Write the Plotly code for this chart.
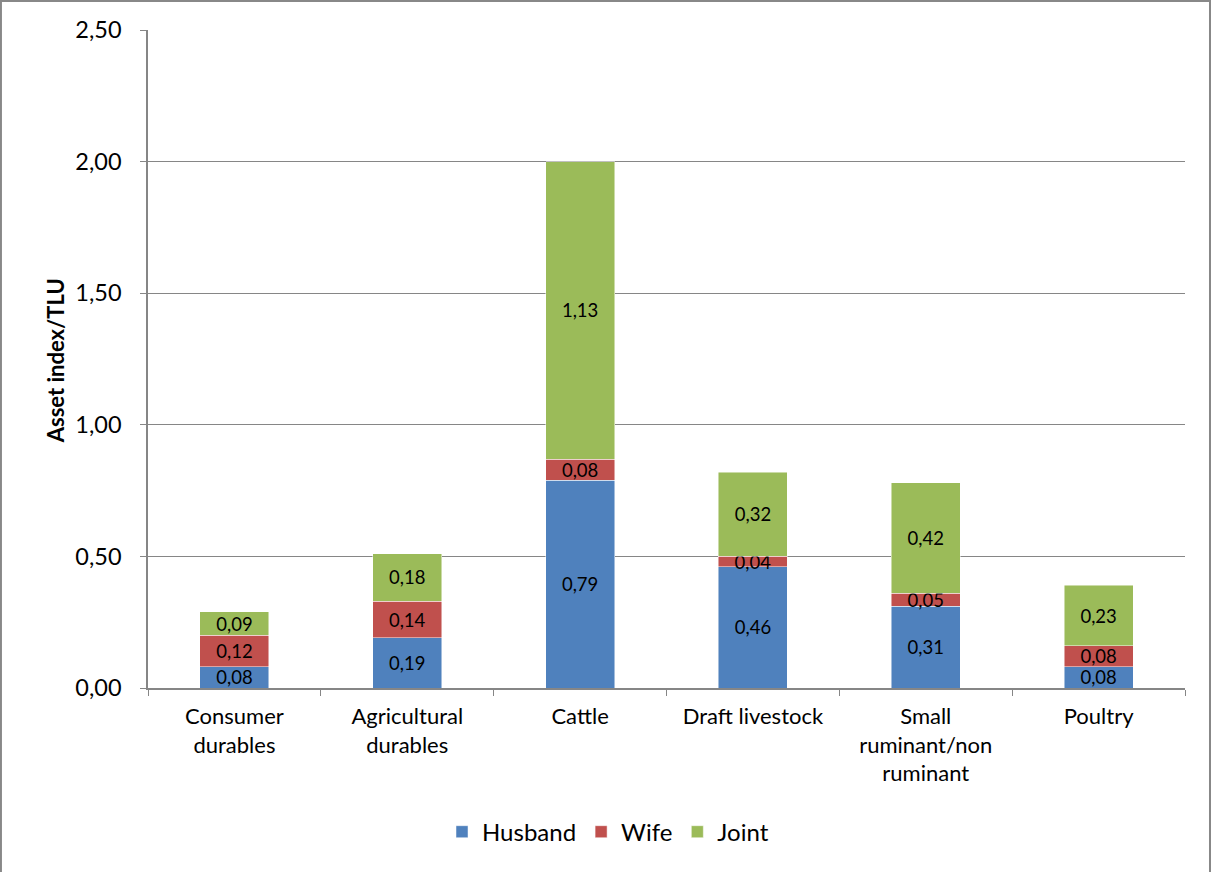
import plotly.graph_objects as go

categories = ["Consumer<br>durables", "Agricultural<br>durables", "Cattle", "Draft livestock",
              "Small<br>ruminant/non<br>ruminant", "Poultry"]
husband = [0.08, 0.19, 0.79, 0.46, 0.31, 0.08]
wife = [0.12, 0.14, 0.08, 0.04, 0.05, 0.08]
joint = [0.09, 0.18, 1.13, 0.32, 0.42, 0.23]
series = [("Husband", husband, "#4F81BD"), ("Wife", wife, "#C0504D"), ("Joint", joint, "#9BBB59")]
y_ticks = [0, 0.5, 1.0, 1.5, 2.0, 2.5]

FONT = "Lato"
fig = go.Figure()
for name, vals, col in series:
    fig.add_trace(go.Bar(
        x=categories, y=vals, name=name,
        marker=dict(color=col, line=dict(color="rgba(255,255,255,0.6)", width=0.8)),
        text=vals, texttemplate="%{y:.2f}", textposition="inside",
        insidetextanchor="middle", textangle=0,
        textfont=dict(family=FONT, size=18.5, color="black"),
    ))

fig.update_layout(
    barmode="stack", bargap=0.6, separators=",.",
    width=1212, height=872,
    margin=dict(l=148, r=27, t=30, b=184),
    paper_bgcolor="white", plot_bgcolor="white",
    font=dict(family=FONT, size=22, color="black"),
    uniformtext=dict(minsize=18, mode="show"),
    showlegend=True,
    legend=dict(orientation="h", x=0.4436, xanchor="center", y=-0.219, yanchor="middle",
                font=dict(family=FONT, size=24), traceorder="normal", itemwidth=30),
    xaxis=dict(showline=True, linecolor="#868686", linewidth=1.5, ticks="outside",
               tickson="boundaries", ticklen=6, tickcolor="#868686", ticklabelstandoff=8,
               tickfont=dict(family=FONT, size=22), fixedrange=True),
    yaxis=dict(range=[0, 2.5], tickvals=y_ticks, tickformat=".2f", showline=True,
               linecolor="#868686", linewidth=1.5, ticks="outside", ticklen=6,
               tickcolor="#868686", gridcolor="#868686", gridwidth=1.2, ticklabelstandoff=14,
               tickfont=dict(family=FONT, size=23.5), zeroline=False),
    annotations=[dict(text="<b>Asset index/TLU</b>", x=-0.0897, y=0.498, xref="paper", yref="paper",
                      textangle=-90, showarrow=False, font=dict(family=FONT, size=22),
                      xanchor="center", yanchor="middle")],
    shapes=[dict(type="rect", xref="paper", yref="paper", x0=-0.1418, x1=1.0241, y0=-0.3, y1=1.044,
                 line=dict(color="#888888", width=2), fillcolor="rgba(0,0,0,0)", layer="below")],
)

fig.write_html("out.html")
